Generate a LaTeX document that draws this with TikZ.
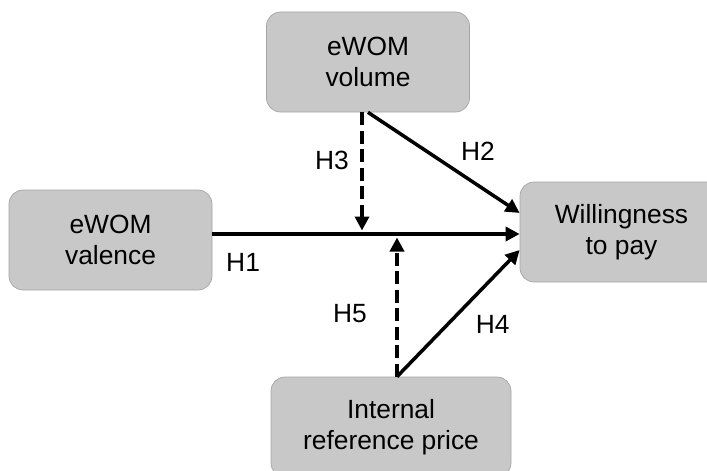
\documentclass[tikz,border=0pt]{standalone}
\usepackage{fontspec}
\setmainfont{Liberation Sans}
\usepackage{tikz}
\usetikzlibrary{arrows.meta, positioning, calc}
\definecolor{boxfill}{RGB}{200,200,200}
\definecolor{boxline}{RGB}{165,165,165}
\tikzstyle{construct} = [rectangle,
rounded corners=2.8mm,
minimum width=4.06cm,
minimum height=2cm,
align=center,
draw=boxline, fill=boxfill,
font=\fontsize{15}{18}\selectfont]
\tikzstyle{arrow} = [line width=2pt,-{Triangle[length=2.8mm,width=2.8mm]}]
\tikzstyle{moderation} = [arrow, dash pattern=on 2.6mm off 1.1mm]
\tikzstyle{hyp} = [inner sep=1pt, font=\fontsize{15}{18}\selectfont]

\begin{document}
\begin{tikzpicture}
                \useasboundingbox (0,0) rectangle (14.14,9.4);
                \node (valence) [construct] at (2.21,4.6) {eWOM\\valence};
                \node (volume) [construct] at (7.36,8.16) {eWOM\\volume};
                \node (wtp) [construct] at (12.43,4.76) {Willingness\\to pay};
                \node (irp) [construct, minimum width=4.8cm] at (7.82,0.86) {Internal\\reference price};

                % main effect line and the two points where the moderators hit it
                \coordinate (h1s) at ([yshift=1.2mm]valence.east);
                \coordinate (h1e) at (h1s -| wtp.west);
                \coordinate (h3s) at ([xshift=-1.2mm]volume.south);
                \coordinate (h5s) at ([xshift=1.2mm]irp.north);

                \draw [arrow] (h1s) -- node[hyp, pos=0.1, yshift=-5.6mm] {H1} (h1e);
                \draw [arrow] (volume.south) -- node[hyp, pos=0.62, xshift=3.2mm, yshift=4.6mm] {H2} ([yshift=3.8mm]wtp.west);
                \draw [moderation] (h3s) -- node[hyp, pos=0.41, xshift=-6mm] {H3} ([yshift=0.7mm]h3s |- h1s);
                \draw [arrow] (h5s) -- node[hyp, pos=0.584, xshift=4.8mm, yshift=-4.4mm] {H4} ([yshift=-3.6mm]wtp.west);
                \draw [moderation] (h5s) -- node[hyp, pos=0.45, xshift=-9.4mm] {H5} ([yshift=-0.7mm]h5s |- h1s);
            \end{tikzpicture}
\end{document}
